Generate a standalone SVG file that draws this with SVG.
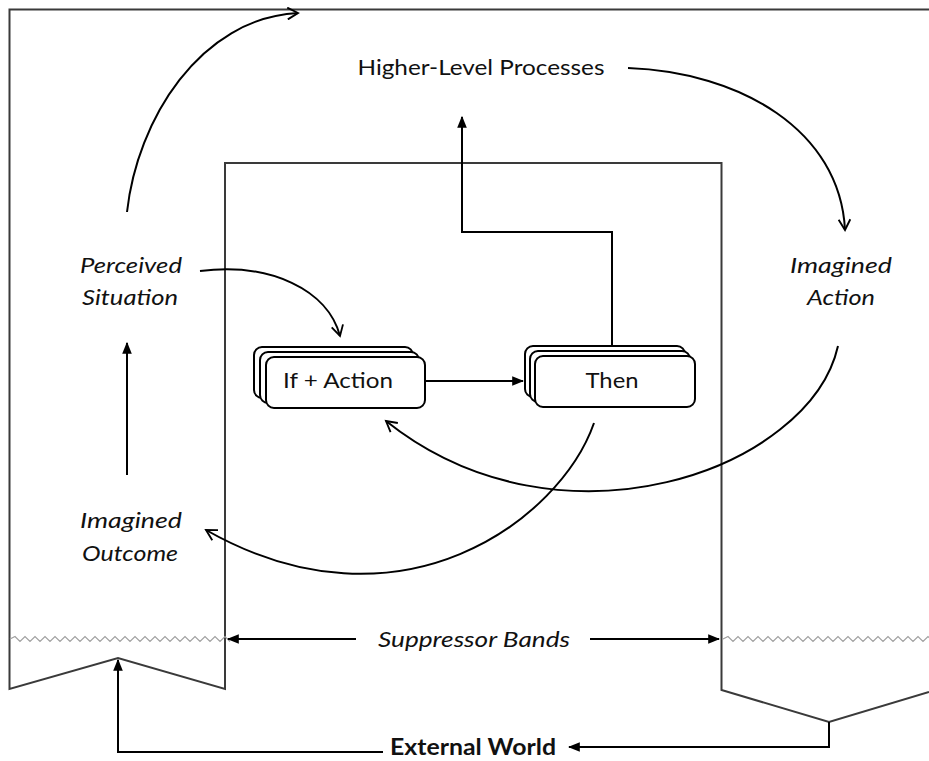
<svg xmlns="http://www.w3.org/2000/svg" width="929" height="761" viewBox="0 0 929 761">
<style>
.frame{fill:none;stroke:#3a3a3a;stroke-width:2}
.wave{fill:none;stroke:#a0a0a0;stroke-width:1.2}
.conn{fill:none;stroke:#000;stroke-width:2}
.box{fill:#fff;stroke:#000;stroke-width:2}
.t{font-family:Lato,"Open Sans","Liberation Sans",sans-serif;font-size:22px;fill:#111;text-anchor:middle}
.it{font-style:italic}
.b{font-weight:bold}
</style>
<defs>
<marker id="tri" viewBox="0 0 10 10" refX="9" refY="5" markerWidth="6" markerHeight="6" orient="auto" markerUnits="strokeWidth">
<path d="M0,1 L10,5 L0,9 z" fill="#000"/>
</marker>
<marker id="open" viewBox="0 0 12 12" refX="10" refY="6" markerWidth="7" markerHeight="7" orient="auto" markerUnits="strokeWidth">
<path d="M1,1 L10,6 L1,11" fill="none" stroke="#000" stroke-width="1.6"/>
</marker>
</defs>
<rect width="929" height="761" fill="#fff"/>
<g id="frame">
<path class="frame" d="M929,9.5 H9.5 V689 L118,658 L225,689 V163 H721.5 V690 L829,722 L929,692"/>
<path class="wave" d="M10,639 l5,-2.5 l5,5 l5,-5 l5,5 l5,-5 l5,5 l5,-5 l5,5 l5,-5 l5,5 l5,-5 l5,5 l5,-5 l5,5 l5,-5 l5,5 l5,-5 l5,5 l5,-5 l5,5 l5,-5 l5,5 l5,-5 l5,5 l5,-5 l5,5 l5,-5 l5,5 l5,-5 l5,5 l5,-5 l5,5 l5,-5 l5,5 l5,-5 l5,5 l5,-5 l5,5 l5,-5 l5,5 l5,-5 l5,5 l5,-5 l5,5"/>
<path class="wave" d="M723,639 l5,-2.5 l5,5 l5,-5 l5,5 l5,-5 l5,5 l5,-5 l5,5 l5,-5 l5,5 l5,-5 l5,5 l5,-5 l5,5 l5,-5 l5,5 l5,-5 l5,5 l5,-5 l5,5 l5,-5 l5,5 l5,-5 l5,5 l5,-5 l5,5 l5,-5 l5,5 l5,-5 l5,5 l5,-5 l5,5 l5,-5 l5,5 l5,-5 l5,5 l5,-5 l5,5 l5,-5 l5,5 l5,-5 l5,5"/>
</g>
<g id="higher-level">
<text class="t" x="481" y="75" textLength="247" lengthAdjust="spacingAndGlyphs">Higher-Level Processes</text>
</g>
<g id="perceived-situation">
<text class="t it" x="131" y="273" textLength="102" lengthAdjust="spacingAndGlyphs">Perceived</text>
<text class="t it" x="130" y="305" textLength="96" lengthAdjust="spacingAndGlyphs">Situation</text>
</g>
<g id="imagined-action">
<text class="t it" x="841" y="273" textLength="102" lengthAdjust="spacingAndGlyphs">Imagined</text>
<text class="t it" x="841" y="305" textLength="68" lengthAdjust="spacingAndGlyphs">Action</text>
</g>
<g id="imagined-outcome">
<text class="t it" x="131" y="528" textLength="102" lengthAdjust="spacingAndGlyphs">Imagined</text>
<text class="t it" x="130" y="561" textLength="96" lengthAdjust="spacingAndGlyphs">Outcome</text>
</g>
<g id="if-action">
<rect class="box" x="254" y="347" width="159" height="51" rx="8"/>
<rect class="box" x="260" y="352" width="159" height="51" rx="8"/>
<rect class="box" x="266" y="357" width="159" height="51" rx="8"/>
<text class="t" x="338" y="388" textLength="110" lengthAdjust="spacingAndGlyphs">If + Action</text>
</g>
<g id="then">
<rect class="box" x="525" y="346" width="160" height="51" rx="8"/>
<rect class="box" x="530" y="351" width="160" height="51" rx="8"/>
<rect class="box" x="535" y="356" width="160" height="51" rx="8"/>
<text class="t" x="612" y="388" textLength="53" lengthAdjust="spacingAndGlyphs">Then</text>
</g>
<g id="suppressor-bands">
<text class="t it" x="474" y="647" textLength="192" lengthAdjust="spacingAndGlyphs">Suppressor Bands</text>
</g>
<g id="external-world">
<text class="t b" x="473" y="755" textLength="166" lengthAdjust="spacingAndGlyphs">External World</text>
</g>
<g id="connectors">
<path class="conn" d="M127,212 C137,120 200,18 298,13" marker-end="url(#open)"/>
<path class="conn" d="M628,68 C740,72 840,130 845,230" marker-end="url(#open)"/>
<path class="conn" d="M200,271 C270,262 328,290 340,336" marker-end="url(#open)"/>
<path class="conn" d="M838,346 C810,470 560,560 386,421" marker-end="url(#open)"/>
<path class="conn" d="M594,423 C560,520 400,640 206,530" marker-end="url(#open)"/>
<path class="conn" d="M425,381 H523" marker-end="url(#tri)"/>
<path class="conn" d="M612,346 V232 H462 V117" marker-end="url(#tri)"/>
<path class="conn" d="M127,475 V343" marker-end="url(#tri)"/>
<path class="conn" d="M356,639 H228" marker-end="url(#tri)"/>
<path class="conn" d="M590,639 H719" marker-end="url(#tri)"/>
<path class="conn" d="M383,752 H118 V660" marker-end="url(#tri)"/>
<path class="conn" d="M829,722 V747 H569" marker-end="url(#tri)"/>
</g>
</svg>
